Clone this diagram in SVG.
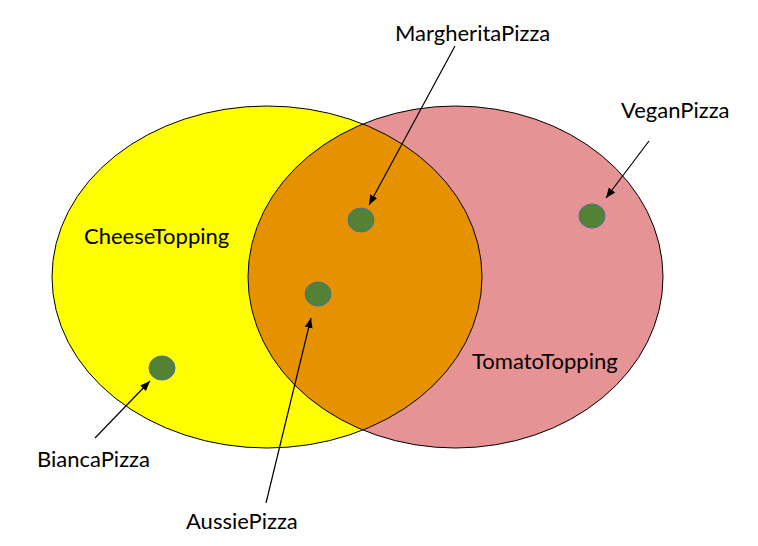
<svg xmlns="http://www.w3.org/2000/svg" width="758" height="546" viewBox="0 0 758 546">
<style>
text{font-family:Lato,"Open Sans","Liberation Sans",sans-serif;font-size:22px;fill:#000}
.dot{fill:#548235;stroke:#41719C;stroke-width:1}
.edge{stroke:#000;stroke-width:1.2;fill:none}
.outline{fill:none;stroke:#000;stroke-width:1}
</style>
<defs>
<marker id="arr" viewBox="0 0 10 10" refX="10" refY="5" markerWidth="10" markerHeight="10" markerUnits="userSpaceOnUse" orient="auto">
<path d="M0,1 L10,5 L0,9 Z" fill="#000"/>
</marker>
<clipPath id="clipY"><ellipse cx="267" cy="277" rx="215" ry="171"/></clipPath>
</defs>
<rect width="758" height="546" fill="#fff"/>
<g id="CheeseTopping">
<ellipse cx="267" cy="277" rx="215" ry="171" fill="#FFFF00"/>
</g>
<g id="TomatoTopping">
<ellipse cx="455.5" cy="277" rx="207.5" ry="171" fill="#E59394"/>
</g>
<g id="intersection">
<ellipse cx="455.5" cy="277" rx="207.5" ry="171" fill="#E69200" clip-path="url(#clipY)"/>
<ellipse class="outline" cx="267" cy="277" rx="215" ry="171"/>
<ellipse class="outline" cx="455.5" cy="277" rx="207.5" ry="171"/>
</g>
<g id="labels">
<text x="84" y="244">CheeseTopping</text>
<text x="472" y="369">TomatoTopping</text>
</g>
<g id="MargheritaPizza">
<ellipse class="dot" cx="361" cy="220" rx="13" ry="12"/>
<text x="395" y="41">MargheritaPizza</text>
</g>
<g id="AussiePizza">
<ellipse class="dot" cx="318" cy="294" rx="13" ry="12"/>
<text x="186" y="529">AussiePizza</text>
</g>
<g id="BiancaPizza">
<ellipse class="dot" cx="162" cy="368" rx="13" ry="12"/>
<text x="37" y="467">BiancaPizza</text>
</g>
<g id="VeganPizza">
<ellipse class="dot" cx="592" cy="216" rx="13" ry="12"/>
<text x="621" y="118">VeganPizza</text>
</g>
<g id="connectors">
<line class="edge" x1="455" y1="46" x2="369" y2="205" marker-end="url(#arr)"/>
<line class="edge" x1="649" y1="141" x2="606" y2="198" marker-end="url(#arr)"/>
<line class="edge" x1="95" y1="438" x2="150" y2="381" marker-end="url(#arr)"/>
<line class="edge" x1="266" y1="503" x2="311" y2="318" marker-end="url(#arr)"/>
</g>
</svg>
